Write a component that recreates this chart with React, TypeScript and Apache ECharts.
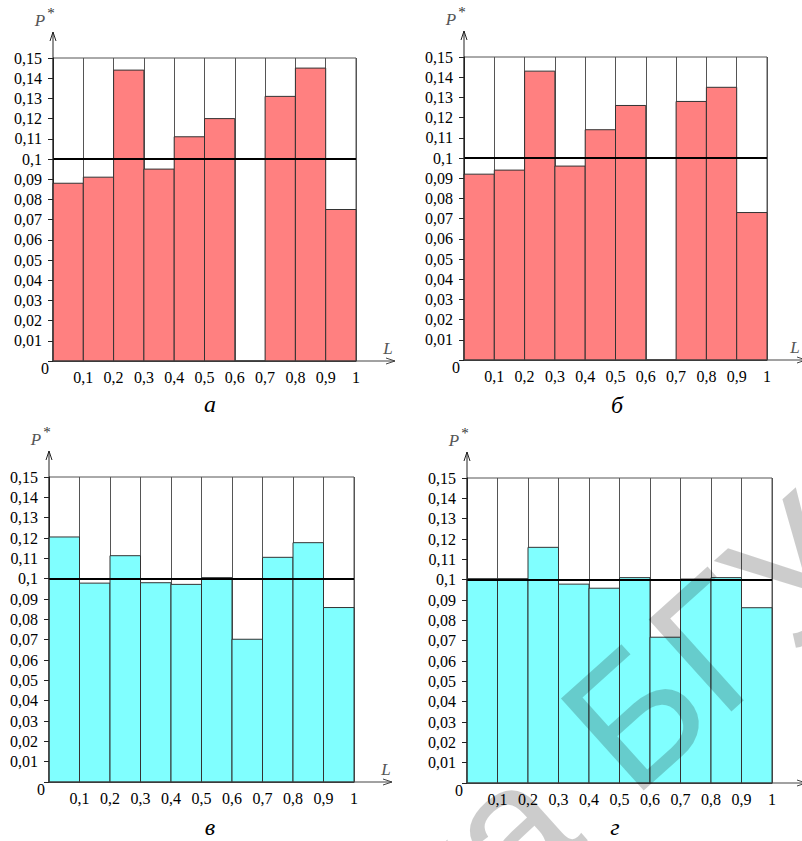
import React, { useEffect, useRef } from "react";
import * as echarts from "echarts";

// ---- data ----
const BIN_EDGES = [0, 0.1, 0.2, 0.3, 0.4, 0.5, 0.6, 0.7, 0.8, 0.9, 1.0];
const P_A = [0.088, 0.091, 0.144, 0.095, 0.111, 0.12, 0, 0.131, 0.145, 0.075];
const P_B = [0.092, 0.094, 0.143, 0.096, 0.114, 0.126, 0, 0.128, 0.135, 0.073];
const P_V = [0.1205, 0.0978, 0.1113, 0.098, 0.0972, 0.1005, 0.0702, 0.1105, 0.1177, 0.0858];
const P_G = [0.1005, 0.1005, 0.1159, 0.0978, 0.0958, 0.101, 0.0717, 0.1003, 0.101, 0.0862];
const REF_LEVEL = 0.1;
const Y_MAX = 0.15;
const Y_STEP = 0.01;
const X_STEP = 0.1;
const PANEL_NAMES = ["а", "б", "в", "г"];
const AXIS_Y_NAME = "P";
const AXIS_X_NAME = "L";
const WATERMARK_PARTS = ["Библиотека", "БГУИР"];

// ---- layout / style ----
const PANELS = [
  { values: P_A, fill: "#FF8080", left: 53, top: 58, width: 303, height: 303, xEnd: 395, letter: [210, 404], showL: true },
  { values: P_B, fill: "#FF8080", left: 464, top: 57, width: 303, height: 303, xEnd: 806, letter: [617, 405], showL: true },
  { values: P_V, fill: "#80FFFF", left: 49, top: 477, width: 305, height: 305, xEnd: 392, letter: [210, 827], showL: true },
  { values: P_G, fill: "#80FFFF", left: 467, top: 478, width: 305, height: 305, xEnd: 806, letter: [615, 827], showL: false },
];

const SERIF = "Liberation Serif";

const fmt = (v: number) => Number(v.toFixed(2)).toString().replace(".", ",");

export default function App() {
  const ref = useRef<HTMLDivElement>(null);
  useEffect(() => {
    document.body.style.margin = "0";
    const chart = echarts.init(ref.current!, null, { renderer: "svg" });

    const grids: any[] = [];
    const xAxes: any[] = [];
    const yAxes: any[] = [];
    const series: any[] = [];
    const graphics: any[] = [];

    const labelStyle = {
      fontFamily: SERIF,
      fontSize: 16,
      fontWeight: "normal",
      fontStyle: "normal",
      color: "#000",
    };

    PANELS.forEach((p, i) => {
      grids.push({
        left: p.left,
        top: p.top,
        width: p.width,
        height: p.height,
        show: true,
        borderColor: "#555",
        borderWidth: 1,
        backgroundColor: "transparent",
      });
      xAxes.push({
        type: "value",
        gridIndex: i,
        min: 0,
        max: 1,
        interval: X_STEP,
        axisLine: { show: true, onZero: false, lineStyle: { color: "#333", width: 1 } },
        axisTick: { show: false },
        axisLabel: {
          ...labelStyle,
          margin: 8,
          formatter: (v: number) => (v === 0 ? "" : fmt(v)),
        },
        splitLine: { show: true, lineStyle: { color: "#555", width: 1 } },
      });
      yAxes.push({
        type: "value",
        gridIndex: i,
        min: 0,
        max: Y_MAX,
        interval: Y_STEP,
        axisLine: { show: true, onZero: false, lineStyle: { color: "#222", width: 1 } },
        axisTick: { show: true, length: 5, lineStyle: { color: "#222", width: 1 } },
        axisLabel: {
          ...labelStyle,
          margin: 11,
          formatter: (v: number) => (v === 0 ? "" : fmt(v)),
        },
        splitLine: { show: false },
      });
      const rows = p.values.map((v, k) => [BIN_EDGES[k], BIN_EDGES[k + 1], v]);
      series.push({
        type: "custom",
        xAxisIndex: i,
        yAxisIndex: i,
        data: rows,
        encode: { x: [0, 1], y: 2 },
        z: 3,
        renderItem: (params: any, api: any) => {
          const x0 = api.value(0);
          const x1 = api.value(1);
          const v = api.value(2);
          const a = api.coord([x0, v]);
          const b = api.coord([x1, 0]);
          return {
            type: "rect",
            shape: { x: a[0], y: a[1], width: b[0] - a[0], height: b[1] - a[1] },
            style: { fill: p.fill, stroke: "#333", lineWidth: 1 },
          };
        },
        markLine: {
          silent: true,
          symbol: "none",
          label: { show: false },
          lineStyle: { color: "#000", width: 2, type: "solid" },
          data: [{ yAxis: REF_LEVEL }],
          z: 5,
        },
      });

      const L = p.left;
      const T = p.top;
      const B = p.top + p.height;
      const R = p.left + p.width;
      const tip = T - 26;
      graphics.push(
        { type: "line", z: 10, shape: { x1: L, y1: B, x2: L, y2: tip }, style: { stroke: "#222", lineWidth: 1 } },
        { type: "polyline", z: 10, shape: { points: [[L - 3, tip + 9], [L, tip], [L + 3, tip + 9]] }, style: { stroke: "#222", lineWidth: 1, fill: "none" } },
        { type: "line", z: 10, shape: { x1: L, y1: B, x2: p.xEnd, y2: B }, style: { stroke: "#444", lineWidth: 1 } },
        { type: "polyline", z: 10, shape: { points: [[p.xEnd - 9, B - 3], [p.xEnd, B], [p.xEnd - 9, B + 3]] }, style: { stroke: "#444", lineWidth: 1, fill: "none" } },
        { type: "text", z: 10, x: L - 13, y: tip - 12, style: { text: AXIS_Y_NAME, font: `italic 17px ${SERIF}`, fill: "#555", align: "center", verticalAlign: "middle" } },
        { type: "text", z: 10, x: L - 2, y: tip - 19, style: { text: "*", font: `15px ${SERIF}`, fill: "#333", align: "center", verticalAlign: "middle" } },
        { type: "text", z: 10, x: L - 8, y: B + 7, style: { text: "0", font: `16px ${SERIF}`, fill: "#000", align: "center", verticalAlign: "middle" } },
        { type: "text", z: 10, x: p.letter[0], y: p.letter[1], style: { text: PANEL_NAMES[i], font: `italic 24px ${SERIF}`, fill: "#000", align: "center", verticalAlign: "middle" } }
      );
      if (p.showL) {
        graphics.push({ type: "text", z: 10, x: Math.min(R + 32, 795), y: B - 13, style: { text: AXIS_X_NAME, font: `italic 17px ${SERIF}`, fill: "#555", align: "center", verticalAlign: "middle" } });
      }
    });

    // watermark (rotated, semi-transparent, drawn over the charts)
    const ang = (42 * Math.PI) / 180;
    const bx = Math.cos(ang);
    const by = -Math.sin(ang);
    const ax = 591;
    const ay = 754;
    const gap = 60;
    const wmFont = `180px 'Liberation Sans', Arial, sans-serif`;
    graphics.push(
      { type: "text", z: 100, x: ax, y: ay, rotation: ang, style: { text: WATERMARK_PARTS[1], font: wmFont, fill: "rgba(0,0,0,0.2)", align: "left", verticalAlign: "middle" } },
      { type: "text", z: 100, x: ax - gap * bx, y: ay - gap * by, rotation: ang, style: { text: WATERMARK_PARTS[0], font: wmFont, fill: "rgba(0,0,0,0.2)", align: "right", verticalAlign: "middle" } }
    );

    chart.setOption({
      animation: false,
      backgroundColor: "#fff",
      textStyle: { fontFamily: SERIF, fontSize: 16 },
      grid: grids,
      xAxis: xAxes,
      yAxis: yAxes,
      series,
      graphic: { elements: graphics },
    });
    return () => chart.dispose();
  }, []);
  return <div ref={ref} style={{ position: "fixed", left: 0, top: 0, width: 802, height: 841 }} />;
}
